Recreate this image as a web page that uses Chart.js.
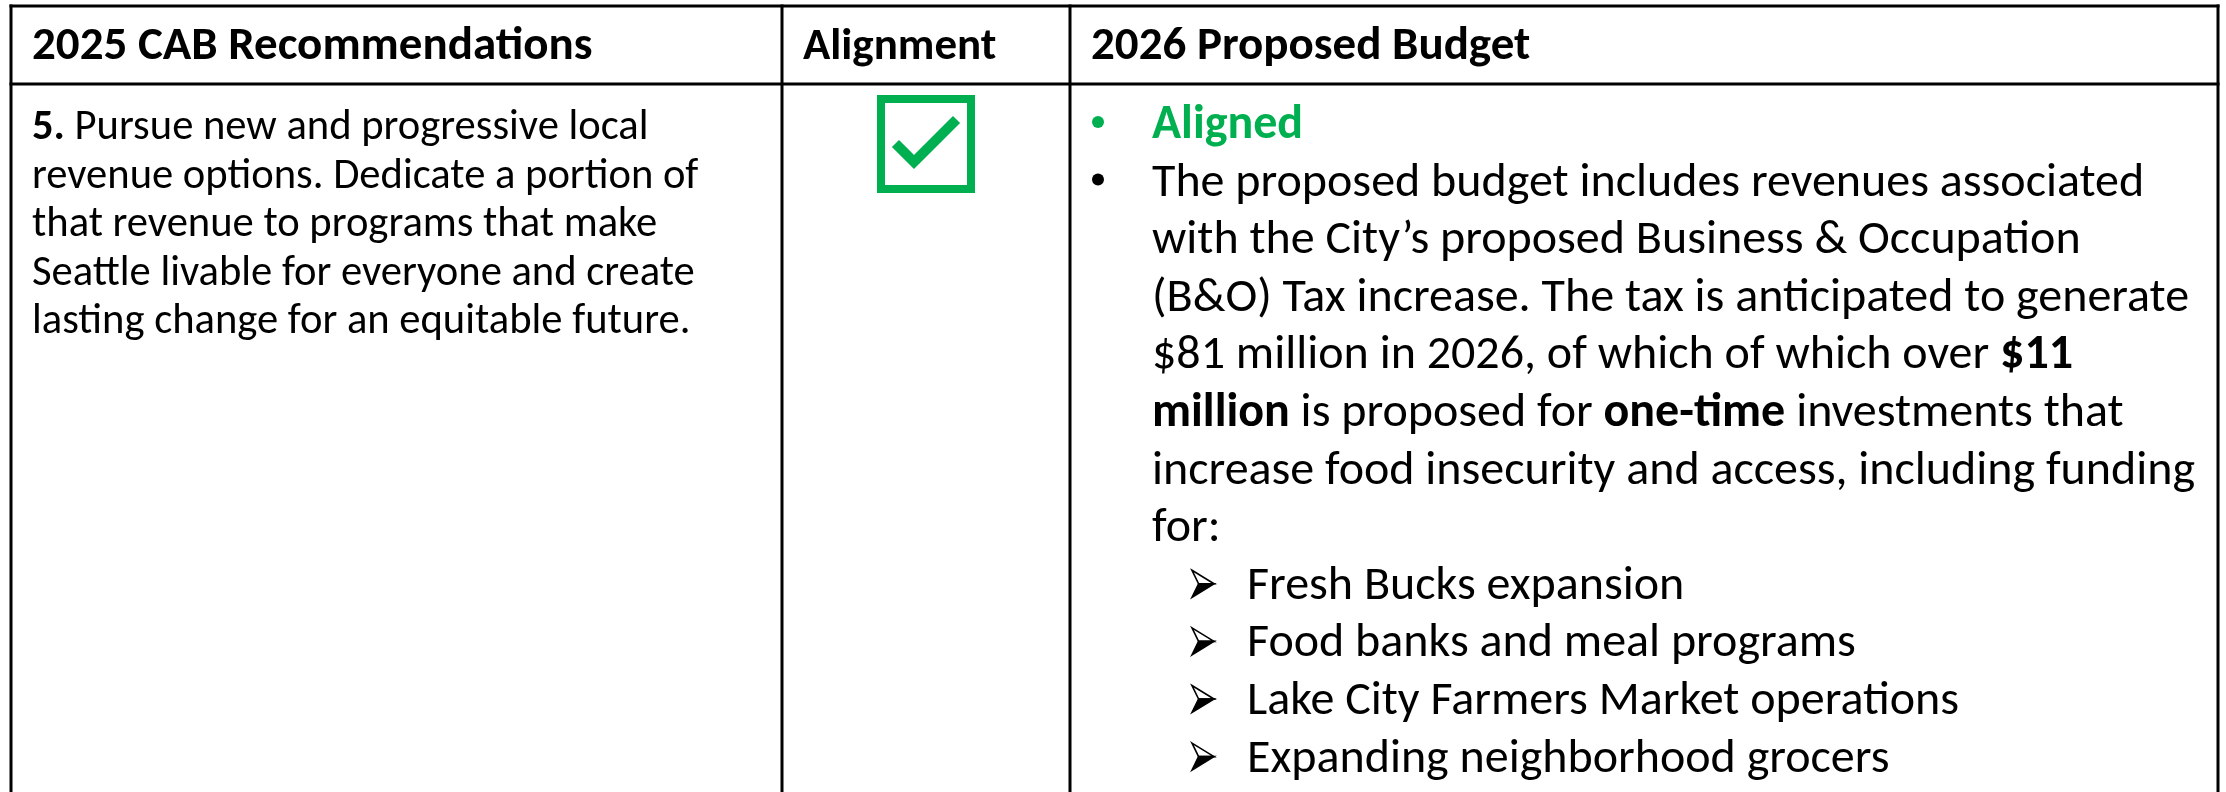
<!DOCTYPE html>
<html>
<head>
<meta charset="utf-8">
<script src="https://cdn.jsdelivr.net/npm/chart.js@4.4.1/dist/chart.umd.min.js"></script>
<style>
html, body { margin: 0; padding: 0; background: #fff; }
#cab { display: block; }
</style>
</head>
<body>
<canvas id="cab" width="2226" height="792"></canvas>
<script>
// table grid (page pixels)
var colEdges = [11, 782, 1070, 2218];
var rowEdges = [6, 84, 800];

var headers = ["2025 CAB Recommendations", "Alignment", "2026 Proposed Budget"];

// column 1 : recommendation, [text, bold]
var recommendation = [
  [["5.", true], [" Pursue new and progressive local", false]],
  [["revenue options. Dedicate a portion of", false]],
  [["that revenue to programs that make", false]],
  [["Seattle livable for everyone and create", false]],
  [["lasting change for an equitable future.", false]]
];

// column 2 : alignment status
var alignment = ["aligned"];

// column 3 : budget text, level 0 = bullet, 0.5 = wrapped line, 1 = arrow item
var budgetLevel = [0, 0, 0.5, 0.5, 0.5, 0.5, 0.5, 0.5, 1, 1, 1, 1];
var budgetText = [
  [["Aligned", true]],
  [["The proposed budget includes revenues associated", false]],
  [["with the City\u2019s proposed Business & Occupation", false]],
  [["(B&O) Tax increase. The tax is anticipated to generate", false]],
  [["$81 million in 2026, of which of which over ", false], ["$11", true]],
  [["million", true], [" is proposed for ", false], ["one-time", true], [" investments that", false]],
  [["increase food insecurity and access, including funding", false]],
  [["for:", false]],
  [["Fresh Bucks expansion", false]],
  [["Food banks and meal programs", false]],
  [["Lake City Farmers Market operations", false]],
  [["Expanding neighborhood grocers", false]]
];
var budgetColor = ["#00B050", "#000", "#000", "#000", "#000", "#000", "#000", "#000", "#000", "#000", "#000", "#000"];

var GREEN = "#00B050";
var FONT = "Carlito, Lato, 'Open Sans', sans-serif";
var condense = 1;

function segWidth(ctx, segs, size) {
  var w = 0;
  segs.forEach(function(s) {
    ctx.font = (s[1] ? "bold " : "") + size + "px " + FONT;
    w += ctx.measureText(s[0]).width;
  });
  return w;
}

function drawSegs(ctx, segs, x, y, size, color) {
  ctx.save();
  ctx.translate(x, y);
  ctx.scale(condense, 1);
  ctx.fillStyle = color;
  ctx.textBaseline = "alphabetic";
  var cx = 0;
  segs.forEach(function(s) {
    ctx.font = (s[1] ? "bold " : "") + size + "px " + FONT;
    ctx.fillText(s[0], cx, 0);
    cx += ctx.measureText(s[0]).width;
  });
  ctx.restore();
}

function drawArrow(ctx, x, y) {
  // the 3D arrowhead bullet
  var w = 22, h = 27;
  ctx.save();
  ctx.translate(x, y - h / 2);
  ctx.lineJoin = "miter";
  ctx.lineWidth = 1.6;
  ctx.strokeStyle = "#000";
  ctx.beginPath();
  ctx.moveTo(0, 0); ctx.lineTo(w, h / 2); ctx.lineTo(w * 0.3, h / 2); ctx.closePath();
  ctx.fillStyle = "#fff"; ctx.fill(); ctx.stroke();
  ctx.beginPath();
  ctx.moveTo(w * 0.3, h / 2); ctx.lineTo(w, h / 2); ctx.lineTo(0, h); ctx.closePath();
  ctx.fillStyle = "#000"; ctx.fill(); ctx.stroke();
  ctx.restore();
}

// checkbox glyph used as the point style of the alignment dataset
function checkIcon() {
  var c = document.createElement("canvas");
  c.width = 98; c.height = 98;
  var g = c.getContext("2d");
  g.strokeStyle = GREEN;
  g.lineWidth = 8;
  g.strokeRect(4, 4, 90, 90);
  g.lineWidth = 10;
  g.lineCap = "square";
  g.lineJoin = "miter";
  g.beginPath();
  g.moveTo(22, 52); g.lineTo(37, 67); g.lineTo(76, 28);
  g.stroke();
  return c;
}

// border segments from the grid arrays
var gridSets = [];
rowEdges.forEach(function(y) {
  gridSets.push([{x: colEdges[0], y: y}, {x: colEdges[colEdges.length - 1], y: y}]);
});
colEdges.forEach(function(x) {
  gridSets.push([{x: x, y: rowEdges[0]}, {x: x, y: rowEdges[rowEdges.length - 1]}]);
});

var datasets = gridSets.map(function(d) {
  return {
    type: "line", data: d, borderColor: "#000", borderWidth: 3,
    pointRadius: 0, fill: false, tension: 0, borderCapStyle: "square"
  };
});

var icon = checkIcon();
datasets.push({
  type: "scatter",
  data: alignment.map(function(a) {
    return {x: (colEdges[1] + colEdges[2]) / 2, y: rowEdges[1] + 60};
  }),
  pointStyle: icon,
  pointRadius: 49
});

var tableText = {
  id: "tableText",
  afterDatasetsDraw: function(chart) {
    var ctx = chart.ctx;
    var xs = chart.scales.x, ys = chart.scales.y;
    var px = function(v) { return xs.getPixelForValue(v); };
    var py = function(v) { return ys.getPixelForValue(v); };

    // fit the font to the Calibri line width of the reference
    condense = 1044 / segWidth(ctx, budgetText[1], 48);
    if (condense > 1) condense = 1;

    // header row
    headers.forEach(function(h, i) {
      var size = i === 1 ? 45 : 47;
      drawSegs(ctx, [[h, true]], px(colEdges[i] + 21), py(rowEdges[0] + 53), size, "#000");
    });

    // recommendation column
    recommendation.forEach(function(line, i) {
      drawSegs(ctx, line, px(colEdges[0] + 21), py(rowEdges[1] + 55 + i * 48.5), 42.6, "#000");
    });

    // budget column
    budgetText.forEach(function(line, i) {
      var base = rowEdges[1] + 54 + i * 57.6;
      var lvl = budgetLevel[i];
      if (lvl === 0) {
        ctx.beginPath();
        ctx.fillStyle = budgetColor[i];
        ctx.arc(px(colEdges[2] + 28), py(base - 16), 6, 0, Math.PI * 2);
        ctx.fill();
      }
      if (lvl === 1) {
        drawArrow(ctx, px(colEdges[2] + 122), py(base - 15));
        drawSegs(ctx, line, px(colEdges[2] + 177), py(base), 48, budgetColor[i]);
      } else {
        drawSegs(ctx, line, px(colEdges[2] + 82), py(base), 48, budgetColor[i]);
      }
    });
  }
};

new Chart(document.getElementById("cab"), {
  type: "scatter",
  data: {datasets: datasets},
  options: {
    responsive: false,
    animation: false,
    devicePixelRatio: 1,
    layout: {padding: 0, autoPadding: false},
    plugins: {legend: {display: false}, tooltip: {enabled: false}},
    scales: {
      x: {type: "linear", display: false, min: 0, max: 2226},
      y: {type: "linear", display: false, min: 0, max: 792, reverse: true}
    }
  },
  plugins: [tableText]
});
</script>
</body>
</html>
